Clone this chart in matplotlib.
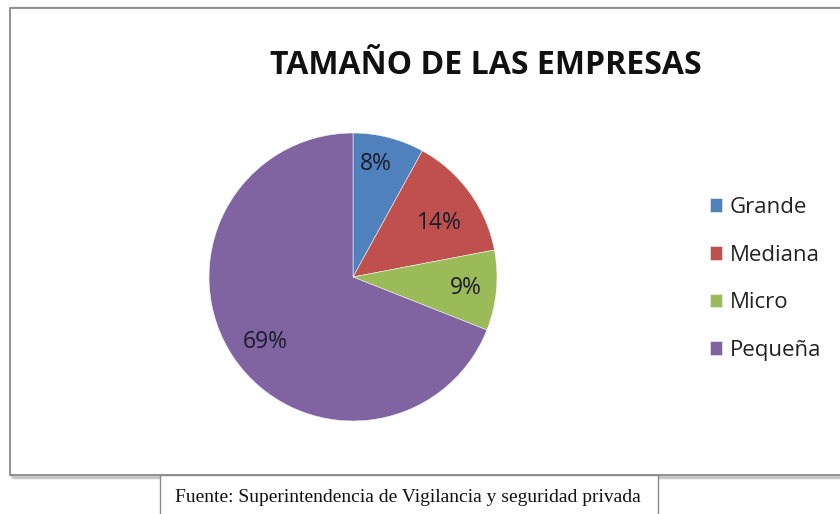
import numpy as np
import matplotlib.pyplot as plt
from matplotlib.patches import Rectangle

# Data
labels = ['Grande', 'Mediana', 'Micro', 'Pequeña']
shares = [8, 14, 9, 69]
colors = ['#4F81BD', '#C0504D', '#9BBB59', '#8064A2']
title = 'TAMAÑO DE LAS EMPRESAS'
source = 'Fuente: Superintendencia de Vigilancia y seguridad privada'

W, H = 840, 514
fig = plt.figure(figsize=(W / 100, H / 100), dpi=100)
fig.patch.set_facecolor('white')

# chart frame with a slight shadow (kept behind the axes)
fig.patches.append(Rectangle((12 / W, 1 - 477 / H), 1.0, 469 / H, transform=fig.transFigure,
                             facecolor='none', edgecolor='#c8c8c8', linewidth=2.5, zorder=-10))
fig.patches.append(Rectangle((10 / W, 1 - 475 / H), 1.0, 467 / H, transform=fig.transFigure,
                             facecolor='white', edgecolor='#8a8a8a', linewidth=1.3, zorder=-9))

# source box
fig.patches.append(Rectangle((160 / W, -0.02), 498 / W, (514 - 475) / H + 0.02,
                             transform=fig.transFigure, facecolor='white',
                             edgecolor='#8a8a8a', linewidth=1.0, zorder=-8))
fig.text(408 / W, 1 - 497 / H, source, ha='center', va='center',
         fontsize=14, family='Liberation Serif', color='#111111')

fig.text(486 / W, 1 - 65 / H, title, ha='center', va='center',
         fontsize=23, fontweight='bold', family='Open Sans', color='#111111')

# pie
cx, cy, r = 353, 277, 144
ax = fig.add_axes([(cx - r) / W, 1 - (cy + r) / H, 2 * r / W, 2 * r / H])
wedges, texts, autotexts = ax.pie(shares, colors=colors, startangle=90, counterclock=False,
                                  autopct='%d%%', pctdistance=0.77,
                                  wedgeprops=dict(linewidth=0.4, edgecolor='#f4f4f4'),
                                  textprops=dict(fontsize=16.5, family='Open Sans', color='#1b1b2a'))

# nudge the percentage labels the way Excel placed them
label_dist = [0.80, 0.71, 0.79, 0.76]
label_shift = [3, -4, 0, 2.5]  # degrees
for t, w, d, s in zip(autotexts, wedges, label_dist, label_shift):
    ang = np.deg2rad((w.theta1 + w.theta2) / 2 + s)
    t.set_position((d * np.cos(ang), d * np.sin(ang)))

ax.set_xlim(-1, 1)
ax.set_ylim(-1, 1)
ax.set_aspect('equal')
ax.axis('off')

# legend
leg = fig.legend(wedges, labels, loc='center left', bbox_to_anchor=(699 / W, 1 - 279 / H),
                 frameon=False, handlelength=0.55, handleheight=0.55, handletextpad=0.35,
                 labelspacing=1.2, borderpad=0, prop=dict(family='Open Sans', size=16))
for t in leg.get_texts():
    t.set_color('#222222')

fig.savefig('out.png', dpi=100, facecolor='white')
